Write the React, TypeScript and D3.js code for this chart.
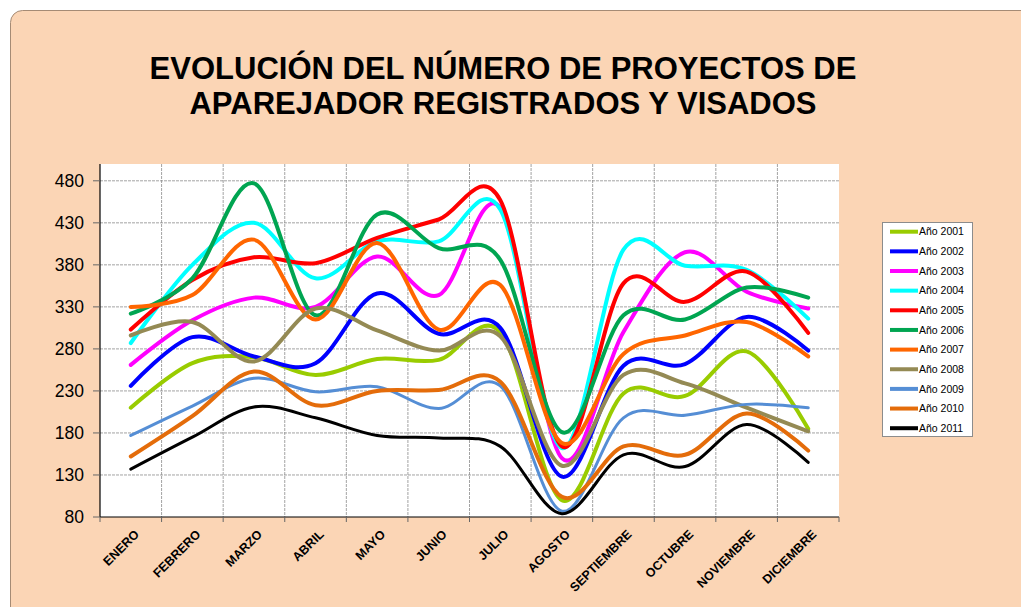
import React from "react";
import * as d3 from "d3";

const months = ["ENERO","FEBRERO","MARZO","ABRIL","MAYO","JUNIO","JULIO","AGOSTO","SEPTIEMBRE","OCTUBRE","NOVIEMBRE","DICIEMBRE"];
const yTicks = [80,130,180,230,280,330,380,430,480];
const seriesNames = ["Año 2001","Año 2002","Año 2003","Año 2004","Año 2005","Año 2006","Año 2007","Año 2008","Año 2009","Año 2010","Año 2011"];
const seriesColors = ["#99CC00","#0000FF","#FF00FF","#00FFFF","#FF0000","#00A551","#FF6600","#948A54","#558ED5","#E46C0A","#000000"];

const y2001 = [210,263,270,249,268,267,300,100,227,224,277,185];
const y2002 = [236,294,271,263,346,298,305,128,260,262,318,278];
const y2003 = [261,314,341,330,390,344,448,150,300,395,348,328];
const y2004 = [287,380,430,364,408,408,446,162,398,379,374,316];
const y2005 = [303,362,389,382,412,434,457,164,358,336,372,299];
const y2006 = [322,364,477,320,440,400,386,181,320,315,353,341];
const y2007 = [330,344,410,315,406,303,356,168,274,296,312,271];
const y2008 = [296,312,265,328,302,278,295,141,249,239,210,182];
const y2009 = [177,212,245,229,235,209,236,87,198,201,214,210];
const y2010 = [152,200,253,213,230,231,241,104,164,154,203,159];
const y2011 = [137,175,211,198,177,174,164,84,154,140,190,145];
const seriesValues = [y2001,y2002,y2003,y2004,y2005,y2006,y2007,y2008,y2009,y2010,y2011];

const W = 1021, H = 607;
const plot = { left: 100, right: 839, top: 164, bottom: 517 };

export default function App() {
  const x = d3.scaleBand<string>().domain(months).range([plot.left, plot.right]);
  const y = d3.scaleLinear().domain([80, 500]).range([plot.bottom, plot.top]);
  const cx = (m: string) => (x(m) as number) + x.bandwidth() / 2;
  const line = d3.line<number>()
    .x((_, i) => cx(months[i]))
    .y((v) => y(v))
    .curve(d3.curveCardinal.tension(0));

  const boundaries = months.map((m) => x(m) as number).concat([plot.right]);

  return (
    <svg width={W} height={H} style={{ position: "absolute", left: 0, top: 0 }} fontFamily="Liberation Sans, Arial, sans-serif">
      <rect x={10.5} y={10.5} width={1040} height={640} rx={12} fill="#FBD5B5" stroke="#A58B75" strokeWidth={1} />
      <text x={503} y={79} textAnchor="middle" fontSize={31} fontWeight="bold" fill="#000">EVOLUCIÓN DEL NÚMERO DE PROYECTOS DE</text>
      <text x={503} y={114} textAnchor="middle" fontSize={31} fontWeight="bold" fill="#000">APAREJADOR REGISTRADOS Y VISADOS</text>

      <rect x={plot.left} y={plot.top} width={plot.right - plot.left} height={plot.bottom - plot.top} fill="#FFFFFF" />
      {yTicks.slice(1).map((t) => (
        <line key={"h" + t} x1={plot.left} x2={plot.right} y1={y(t)} y2={y(t)} stroke="#8C8C8C" strokeWidth={0.8} strokeDasharray="3,1" />
      ))}
      {boundaries.slice(1, -1).map((b, i) => (
        <line key={"v" + i} x1={b} x2={b} y1={plot.top} y2={plot.bottom} stroke="#8C8C8C" strokeWidth={0.8} strokeDasharray="3,1" />
      ))}

      {seriesValues.map((vals, i) => (
        <path key={seriesNames[i]} d={line(vals) as string} fill="none" stroke={seriesColors[i]}
          strokeWidth={i === 10 || i === 8 ? 3 : 4} strokeLinejoin="round" strokeLinecap="round" />
      ))}

      <line x1={plot.left} x2={plot.left} y1={plot.top} y2={plot.bottom} stroke="#000" strokeWidth={1.2} />
      <line x1={plot.left} x2={plot.right} y1={plot.bottom} y2={plot.bottom} stroke="#000" strokeWidth={1.2} />
      {yTicks.map((t) => (
        <g key={"yt" + t}>
          <line x1={plot.left - 7} x2={plot.left} y1={y(t)} y2={y(t)} stroke="#666" />
          <text x={84} y={y(t)} dy="0.36em" textAnchor="end" fontSize={17.5} fill="#000">{t}</text>
        </g>
      ))}
      {boundaries.map((b, i) => (
        <line key={"xt" + i} x1={b} x2={b} y1={plot.bottom} y2={plot.bottom + 5} stroke="#666" />
      ))}
      {months.map((m) => (
        <text key={m} transform={`translate(${cx(m) + 9},${plot.bottom + 18}) rotate(-45)`} textAnchor="end" fontSize={12.5} fontWeight="bold" fill="#000">{m}</text>
      ))}

      <rect x={882.5} y={222.5} width={90} height={214} fill="#FFFFFF" stroke="#8C8C8C" strokeWidth={1} />
      {seriesNames.map((n, i) => {
        const ly = 231.7 + i * 19.65;
        return (
          <g key={"lg" + n}>
            <line x1={890} x2={918} y1={ly} y2={ly} stroke={seriesColors[i]} strokeWidth={4} />
            <text x={919} y={ly} dy="0.35em" fontSize={10.5} fill="#000">{n}</text>
          </g>
        );
      })}
    </svg>
  );
}
